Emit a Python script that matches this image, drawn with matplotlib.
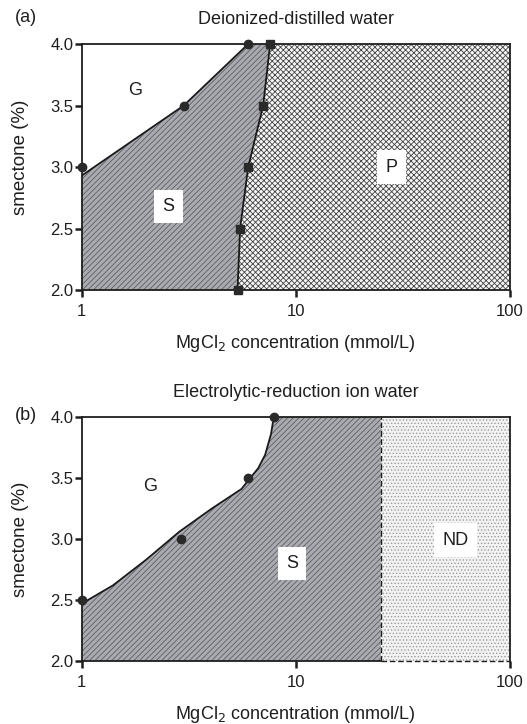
import matplotlib
matplotlib.use("Agg")
import matplotlib.pyplot as plt
import numpy as np

plt.rcParams['font.family'] = ['Liberation Sans', 'DejaVu Sans']

# ---- Panel (a) data: Deionized-distilled water ----
a_gs_x = [1.0, 3.0, 6.0]          # G/S boundary markers
a_gs_y = [3.0, 3.5, 4.0]
a_gs_curve_x = [1.0, 3.0, 6.0]
a_gs_curve_y = [2.93, 3.5, 4.0]
a_sp_x = [5.35, 5.5, 6.0, 7.05, 7.6]   # S/P boundary markers
a_sp_y = [2.0, 2.5, 3.0, 3.5, 4.0]

# ---- Panel (b) data: Electrolytic-reduction ion water ----
b_gs_x = [1.0, 2.9, 6.0, 7.9]
b_gs_y = [2.5, 3.0, 3.5, 4.0]
b_gs_curve_x = [1.0, 1.4, 2.0, 2.86, 4.06, 5.58, 6.68, 7.2, 7.67, 7.9]
b_gs_curve_y = [2.47, 2.62, 2.83, 3.06, 3.25, 3.41, 3.58, 3.69, 3.86, 4.0]
b_nd_x = 25.0

xlim = (1, 100)
ylim = (2.0, 4.0)
yticks = [2.0, 2.5, 3.0, 3.5, 4.0]
xticks = [1, 10, 100]

S_FACE = '#a9abb0'
S_HATCH = '#5c5e63'
plt.rcParams['hatch.linewidth'] = 0.6
TXT = '#1e1e1e'

fig = plt.figure(figsize=(5.27, 7.24), dpi=100)
ax_a = fig.add_axes([0.155, 0.5994, 0.812, 0.3398])
ax_b = fig.add_axes([0.155, 0.0870, 0.812, 0.3370])


def style_axes(ax, title, h_px, ylab_y):
    ax.set_xscale('log')
    ax.set_xlim(*xlim)
    ax.set_ylim(*ylim)
    ax.set_xticks(xticks)
    ax.set_xticklabels([str(t) for t in xticks])
    ax.xaxis.set_minor_locator(matplotlib.ticker.NullLocator())
    ax.set_yticks(yticks)
    ax.set_yticklabels([f'{t:.1f}' for t in yticks])
    ax.tick_params(axis='both', direction='out', length=5, width=1.8,
                   labelsize=12, color=TXT, labelcolor=TXT)
    ax.tick_params(axis='y', pad=1)
    ax.tick_params(axis='x', pad=5)
    for s in ax.spines.values():
        s.set_linewidth(1.3)
        s.set_color(TXT)
    ax.set_ylabel('smectone (%)', fontsize=13.5, color=TXT, va='center')
    ax.yaxis.set_label_coords(-61 / 428, ylab_y)
    ax.set_xlabel('MgCl$_2$ concentration (mmol/L)', fontsize=13,
                  color=TXT, va='center')
    ax.xaxis.set_label_coords(0.5, -53 / h_px)
    ax.text(0.5, 1 + 25 / h_px, title, transform=ax.transAxes, fontsize=13,
            color=TXT, ha='center', va='center')
    ax.set_zorder(1)
    return ax


box = dict(facecolor='white', edgecolor='none', pad=6)

# ---- Panel (a) ----
ax = ax_a
gx = np.array(a_gs_curve_x)
gy = np.array(a_gs_curve_y)
px = np.array(a_sp_x)
py = np.array(a_sp_y)
poly_x = [xlim[0]] + list(gx) + list(px[::-1]) + [xlim[0]]
poly_y = [gy[0]] + list(gy) + list(py[::-1]) + [ylim[0]]
ax.fill(poly_x, poly_y, facecolor=S_FACE, edgecolor=S_HATCH, hatch='//////',
        linewidth=0)
ax.fill(list(px) + [xlim[1], xlim[1]], list(py) + [ylim[1], ylim[0]],
        facecolor='#f6f6f6', edgecolor='#454545', hatch='xxxxxx', linewidth=0)
ax.plot(gx, gy, color='#1a1a1a', lw=1.3, zorder=3)
ax.plot(px, py, color='#1a1a1a', lw=1.3, zorder=3)
ax.plot(a_gs_x, a_gs_y, 'o', color='#2a2a2a', ms=6, clip_on=False, zorder=4)
ax.plot(a_sp_x, a_sp_y, 's', color='#2a2a2a', ms=5.5, clip_on=False, zorder=4)
ax.text(1.78, 3.62, 'G', fontsize=13, ha='center', va='center', color=TXT)
ax.text(2.54, 2.68, 'S', fontsize=13, ha='center', va='center', color=TXT, bbox=box)
ax.text(28, 3.0, 'P', fontsize=13, ha='center', va='center', color=TXT, bbox=box)
style_axes(ax, 'Deionized-distilled water', 246, 0.54)
fig.text(15 / 527, 1 - 18 / 724, '(a)', fontsize=13, color=TXT, ha='left', va='center')

# ---- Panel (b) ----
ax = ax_b
gx = np.array(b_gs_curve_x)
gy = np.array(b_gs_curve_y)
poly_x = [xlim[0]] + list(gx) + [b_nd_x, b_nd_x, xlim[0]]
poly_y = [gy[0]] + list(gy) + [ylim[1], ylim[0], ylim[0]]
ax.fill(poly_x, poly_y, facecolor=S_FACE, edgecolor=S_HATCH, hatch='//////',
        linewidth=0)
ax.fill([b_nd_x, xlim[1], xlim[1], b_nd_x], [ylim[0], ylim[0], ylim[1], ylim[1]],
        facecolor='#f3f3f3', edgecolor='#9a9a9a', hatch='.....', linewidth=0)
ax.plot(gx, gy, color='#1a1a1a', lw=1.3, zorder=3)
ax.plot([b_nd_x, b_nd_x], [ylim[0], ylim[1]], color='#1a1a1a', lw=1.0,
        ls=(0, (4, 2)), zorder=3)
ax.plot(b_gs_x, b_gs_y, 'o', color='#2a2a2a', ms=6, clip_on=False, zorder=4)
ax.text(2.08, 3.43, 'G', fontsize=13, ha='center', va='center', color=TXT)
ax.text(9.6, 2.80, 'S', fontsize=13, ha='center', va='center', color=TXT, bbox=box)
ax.text(55.8, 2.99, 'ND', fontsize=13, ha='center', va='center', color=TXT, bbox=box)
style_axes(ax, 'Electrolytic-reduction ion water', 244, 0.50)
fig.text(15 / 527, 1 - 416 / 724, '(b)', fontsize=13, color=TXT, ha='left', va='center')
ax.spines['bottom'].set_visible(False)
ax.plot([xlim[0], b_nd_x], [ylim[0], ylim[0]], color=TXT, lw=1.3,
        clip_on=False, zorder=5)
ax.plot([b_nd_x, xlim[1]], [ylim[0], ylim[0]], color=TXT, lw=1.0,
        ls=(0, (4, 2)), clip_on=False, zorder=5)

fig.savefig('out.png', dpi=100)
